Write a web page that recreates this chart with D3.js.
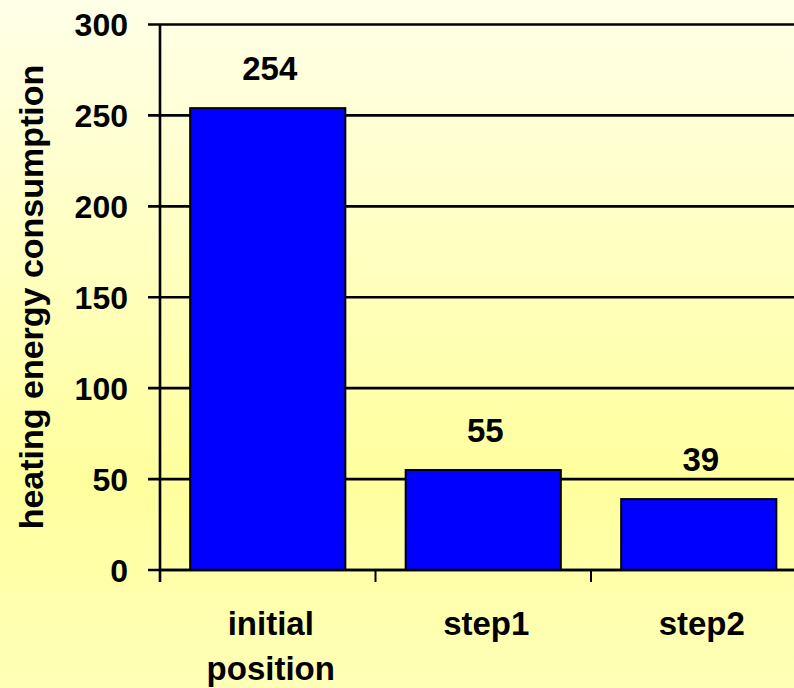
<!DOCTYPE html>
<html>
<head>
  <meta http-equiv="Content-Type" content="text/html;charset=utf-8" />
  <script src="https://cdn.jsdelivr.net/npm/d3@7"></script>
  <style type="text/css">
    body { margin: 0; }
    text { font-family: Arial, "Liberation Sans", sans-serif; font-weight: bold; fill: #000; }
  </style>
</head>
<body>
  <svg id="c" width="794" height="688"></svg>
  <script>
    // chart data
    const categories = [["initial", "position"], ["step1"], ["step2"]];
    const values = [254, 55, 39];
    const yTicks = [0, 50, 100, 150, 200, 250, 300];

    const width = 794, height = 688;
    const x0 = 160, x1 = 806.5, yTop = 24.5, yBottom = 570;

    const svg = d3.select("#c");

    // background gradient
    const grad = svg.append("defs").append("linearGradient")
      .attr("id", "bg").attr("x1", 0).attr("y1", 0).attr("x2", 0).attr("y2", 1);
    grad.append("stop").attr("offset", "0").attr("stop-color", "#ffffe8");
    grad.append("stop").attr("offset", "0.7").attr("stop-color", "#ffff9e");
    grad.append("stop").attr("offset", "1").attr("stop-color", "#ffffb8");
    svg.append("rect").attr("width", width).attr("height", height).attr("fill", "url(#bg)");

    const x = d3.scaleBand()
      .domain(d3.range(categories.length))
      .range([x0, x1])
      .paddingInner(0.28)
      .paddingOuter(0.14);
    const step = x.step();

    const y = d3.scaleLinear().domain([0, 300]).range([yBottom, yTop]);

    // gridlines + y ticks
    svg.append("g").selectAll("line").data(yTicks).join("line")
      .attr("x1", x0 - 12).attr("x2", width)
      .attr("y1", d => y(d)).attr("y2", d => y(d))
      .attr("stroke", "#000").attr("stroke-width", 2.6);

    svg.append("g").selectAll("text").data(yTicks).join("text")
      .attr("x", x0 - 32).attr("y", d => y(d)).attr("dy", "0.36em")
      .attr("text-anchor", "end").style("font-size", "32px")
      .text(d => d);

    // bars
    svg.append("g").selectAll("rect").data(values).join("rect")
      .attr("x", (d, i) => x(i)).attr("width", x.bandwidth())
      .attr("y", d => y(d)).attr("height", d => y(0) - y(d))
      .attr("fill", "#0000ff").attr("stroke", "#000").attr("stroke-width", 2);

    // value labels
    svg.append("g").selectAll("text").data(values).join("text")
      .attr("x", (d, i) => x(i) + x.bandwidth() / 2 + 2)
      .attr("y", d => y(d) - 28)
      .attr("text-anchor", "middle").style("font-size", "33px")
      .text(d => d);

    // axes lines
    svg.append("line").attr("x1", x0).attr("x2", x0).attr("y1", yTop).attr("y2", yBottom + 12)
      .attr("stroke", "#000").attr("stroke-width", 2.6);
    svg.append("line").attr("x1", x0).attr("x2", width).attr("y1", yBottom).attr("y2", yBottom)
      .attr("stroke", "#000").attr("stroke-width", 2.6);
    svg.append("g").selectAll("line").data(d3.range(categories.length + 1)).join("line")
      .attr("x1", i => x0 + i * step).attr("x2", i => x0 + i * step)
      .attr("y1", yBottom).attr("y2", yBottom + 12)
      .attr("stroke", "#000").attr("stroke-width", 2);

    // category labels
    const cat = svg.append("g").selectAll("text").data(categories).join("text")
      .attr("text-anchor", "middle").style("font-size", "33px")
      .attr("transform", (d, i) => `translate(${x(i) + x.bandwidth() / 2 + 3},635)`);
    cat.selectAll("tspan").data(d => d).join("tspan")
      .attr("x", 0).attr("y", (d, j) => j * 45)
      .text(d => d);

    // y axis title
    svg.append("text")
      .attr("transform", "translate(43,297) rotate(-90)")
      .attr("text-anchor", "middle").style("font-size", "34px")
      .text("heating energy consumption");
  </script>
</body>
</html>
